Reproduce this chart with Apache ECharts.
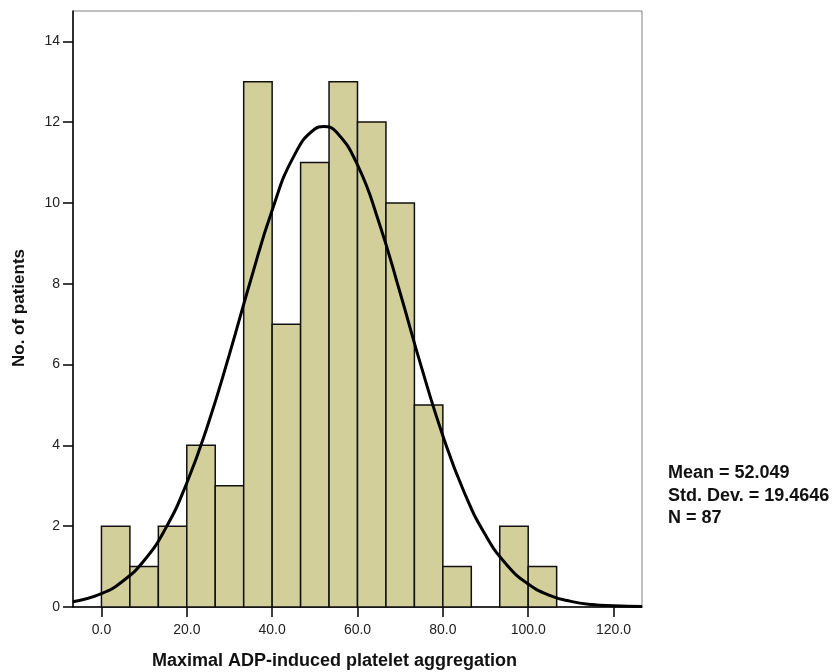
<!DOCTYPE html>
<html>
<head>
<meta charset="utf-8">
<script src="https://cdn.jsdelivr.net/npm/echarts@6/dist/echarts.min.js"></script>
<style>html,body{margin:0;padding:0;background:#fff}#c{width:838px;height:672px}</style>
</head>
<body>
<div id="c"></div>
<script>
// Histogram bins (width 20/3), start values
const binStarts = [0, 6.667, 13.333, 20, 26.667, 33.333, 40, 46.667, 53.333, 60, 66.667, 73.333, 80, 86.667, 93.333, 100];
const binWidth = 20 / 3;
const counts = [2, 1, 2, 4, 3, 13, 7, 11, 13, 12, 10, 5, 1, 0, 2, 1];
// Fitted normal curve
const curveX = [-6.667, 0, 5, 10, 15, 20, 25, 30, 35, 40, 45, 50, 52.05, 55, 60, 65, 70, 75, 80, 85, 90, 95, 100, 105, 110, 115, 120, 126.667];
const curveY = [0.13, 0.33, 0.64, 1.15, 1.94, 3.07, 4.53, 6.26, 8.10, 9.82, 11.14, 11.83, 11.89, 11.76, 10.94, 9.53, 7.77, 5.93, 4.24, 2.84, 1.78, 1.04, 0.57, 0.29, 0.14, 0.06, 0.03, 0.01];
const xTicks = [0, 20, 40, 60, 80, 100, 120];
const yTicks = [0, 2, 4, 6, 8, 10, 12, 14];
const statLines = ['Mean = 52.049', 'Std. Dev. = 19.4646', 'N = 87'];

const font = '"Liberation Sans", Arial, sans-serif';
const chart = echarts.init(document.getElementById('c'));
const barData = binStarts.map((s, i) => [s, s + binWidth, counts[i]]).filter(d => d[2] > 0);

chart.setOption({
  animation: false,
  grid: { left: 73, top: 11, right: 196, bottom: 65, show: true, borderColor: '#808080', borderWidth: 1, backgroundColor: 'transparent' },
  xAxis: {
    type: 'value', min: -20 / 3, max: 380 / 3,
    splitLine: { show: false },
    axisLine: { show: true, onZero: false, lineStyle: { color: '#000', width: 1.5 } },
    axisTick: { show: true, length: 10, customValues: xTicks, lineStyle: { color: '#000', width: 1.5 } },
    axisLabel: { customValues: xTicks, formatter: v => v.toFixed(1), color: '#222', fontFamily: font, fontSize: 14, margin: 16 }
  },
  yAxis: {
    type: 'value', min: 0, max: 14.75,
    splitLine: { show: false },
    axisLine: { show: true, onZero: false, lineStyle: { color: '#000', width: 1.5 } },
    axisTick: { show: true, length: 10, customValues: yTicks, lineStyle: { color: '#000', width: 1.5 } },
    axisLabel: { customValues: yTicks, color: '#222', fontFamily: font, fontSize: 14, margin: 13 }
  },
  series: [
    {
      type: 'custom',
      data: barData,
      renderItem: function (params, api) {
        const p0 = api.coord([api.value(0), 0]);
        const p1 = api.coord([api.value(1), api.value(2)]);
        return {
          type: 'rect',
          shape: { x: p0[0], y: p1[1], width: p1[0] - p0[0], height: p0[1] - p1[1] },
          style: { fill: '#d3cf9b', stroke: '#111', lineWidth: 1.5 }
        };
      },
      z: 2
    },
    {
      type: 'line',
      data: curveX.map((x, i) => [x, curveY[i]]),
      smooth: true,
      showSymbol: false,
      lineStyle: { color: '#000', width: 3 },
      z: 3
    }
  ],
  graphic: [
    { type: 'text', x: 152, y: 661, style: { text: 'Maximal ADP-induced platelet aggregation', font: 'bold 18px ' + font, fill: '#111', verticalAlign: 'middle' } },
    { type: 'text', x: 19, y: 308, rotation: Math.PI / 2, style: { text: 'No. of patients', font: 'bold 17px ' + font, fill: '#111', align: 'center', verticalAlign: 'middle' } },
    { type: 'text', x: 668, y: 462, style: { text: statLines.join('\n'), font: 'bold 18px ' + font, lineHeight: 22.5, fill: '#111' } }
  ]
});
</script>
</body>
</html>
